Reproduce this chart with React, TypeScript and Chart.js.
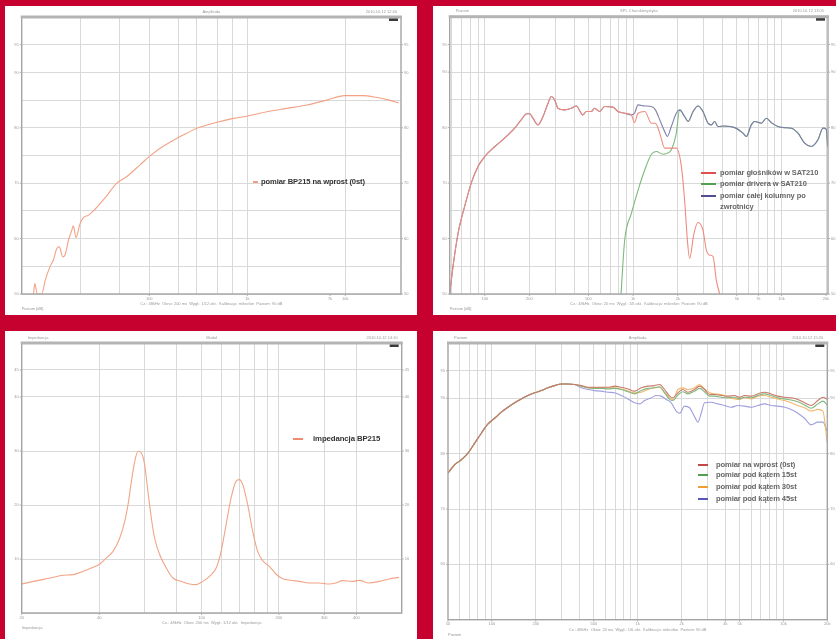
import React, { useEffect, useRef } from "react";
import { Chart, registerables } from "chart.js";
Chart.register(...registerables);

// ---------- Panel 1: BP215 on-axis ----------
const p1Freq = [6.6, 6.8, 7.2, 8.0, 8.7, 9.7, 10.5, 11.4, 12.1, 13.1, 13.8, 15.0, 16.2, 16.8, 17.9, 19.7, 21.3, 23.9, 28.0, 31.5, 36.8, 46.6, 59, 80.5, 100, 129, 179, 241, 305, 469, 720, 986, 1580, 2530, 4040, 6460, 9840, 15100, 20600, 28000, 35000];
const p1Spl = [50, 51.9, 50, 50, 52.5, 54.9, 56.1, 58.2, 58.5, 56.7, 57.0, 59.7, 61.5, 62.3, 60.2, 62.7, 63.8, 64.2, 65.3, 66.3, 67.7, 70.0, 71.2, 73.3, 74.8, 76.3, 77.8, 79.0, 79.9, 80.9, 81.7, 82.1, 82.9, 83.5, 84.1, 85.0, 85.8, 85.8, 85.5, 85.0, 84.5];
const p1XGrid = [20, 50, 100, 200, 300, 500, 700, 1000, 10000];
const p1XLabels = [100, 1000, 7000, 10000];
const p1XLabelText = ["100", "1k", "7k", "10k"];

// ---------- Panel 2: SAT210 ----------
const p2SysFreq = [58, 61, 66, 73, 81, 90, 100, 117, 136, 159, 176, 192, 201, 211, 228, 247, 267, 281, 296, 311, 346, 383, 414, 458, 484, 522, 550, 594, 643, 731, 791, 877, 972, 1022, 1079, 1199, 1328, 1414, 1512, 1632, 1701, 1810, 1955, 2058, 2224, 2347, 2537, 2736, 2957, 3196, 3364, 3543, 3733, 4140, 4838, 5503, 5800, 6262, 6599, 7315, 7906, 8545, 9477, 10510, 11656, 12927, 14335, 15898, 17631, 19058, 20067, 20500];
const p2SysSpl = [50.0, 54.9, 60.9, 65.7, 70.0, 73.0, 74.8, 76.6, 78.1, 79.9, 81.4, 82.5, 82.5, 81.7, 80.5, 82.0, 84.4, 85.6, 85.0, 83.5, 83.2, 83.5, 83.9, 82.3, 82.9, 82.9, 83.5, 82.9, 83.8, 83.7, 82.9, 82.6, 82.3, 82.6, 84.1, 83.9, 83.8, 83.2, 81.4, 79.3, 78.4, 80.2, 82.6, 83.2, 82.0, 81.1, 82.9, 83.9, 82.9, 80.8, 80.5, 81.1, 80.2, 80.3, 80.0, 79.0, 78.4, 80.5, 81.1, 80.8, 81.7, 80.9, 80.2, 80.0, 79.9, 79.0, 77.2, 76.6, 77.8, 79.9, 79.7, 76.6];
const p2WooferHighFreq = [1022, 1079, 1199, 1328, 1414, 1512, 1632, 1810, 1955, 2115, 2224, 2322, 2403, 2570, 2736, 2957, 3117, 3276, 3454, 3638, 3832];
const p2WooferHighSpl = [80.9, 82.6, 82.9, 80.8, 80.8, 79.0, 76.3, 76.3, 76.3, 73.0, 66.9, 59.7, 56.4, 60.9, 62.9, 61.5, 57.9, 57.0, 56.8, 52.5, 50.0];
const p2DriverLowFreq = [829, 877, 972, 1079, 1199, 1328, 1433, 1592, 1701, 1810, 1955];
const p2DriverLowSpl = [50.0, 59.7, 64.5, 68.7, 72.4, 75.2, 75.7, 75.2, 75.4, 76.0, 79.0];
const p2WooferFreq = [...p2SysFreq.slice(0, 33), ...p2WooferHighFreq];
const p2WooferSpl = [...p2SysSpl.slice(0, 33), ...p2WooferHighSpl];
const p2DriverFreq = [...p2DriverLowFreq, ...p2SysFreq.slice(43)];
const p2DriverSpl = [...p2DriverLowSpl, ...p2SysSpl.slice(43)];

const stdLogGrid = [60, 70, 80, 90, 100, 200, 300, 400, 500, 600, 700, 800, 900, 1000, 2000, 3000, 4000, 5000, 6000, 7000, 8000, 9000, 10000, 20000];
const p2XLabels = [100, 200, 500, 1000, 2000, 5000, 7000, 10000, 20000];
const p2XLabelText = ["100", "200", "500", "1k", "2k", "5k", "7k", "10k", "20k"];

// ---------- Panel 3: impedance ----------
const p3Freq = [20, 22.2, 25.8, 29.0, 31.7, 34.7, 37.9, 40.3, 42.7, 45.3, 48.1, 50.3, 51.8, 53.4, 55.0, 56.7, 58.4, 60.1, 61.9, 63.8, 65.7, 68.8, 73.0, 77.4, 83.4, 89.8, 95.3, 101.2, 107.4, 114.0, 119.2, 124.6, 130.3, 136.2, 140.4, 144.6, 151.2, 158.1, 165.3, 172.9, 183.5, 194.7, 206.6, 222.6, 239.8, 262.2, 286.6, 313.4, 332.6, 353.1, 386.0, 409.6, 447.9, 489.7, 535.5, 585.5];
const p3Ohm = [5.37, 5.86, 6.48, 6.98, 7.10, 7.72, 8.46, 9.07, 10.19, 11.42, 13.89, 16.98, 20.06, 24.38, 28.09, 29.94, 29.63, 27.47, 22.53, 17.59, 13.89, 10.80, 8.33, 6.48, 5.86, 5.37, 5.25, 5.86, 6.79, 8.33, 11.42, 16.36, 21.30, 24.38, 24.69, 23.77, 20.06, 15.12, 11.42, 9.69, 8.64, 7.22, 6.36, 6.05, 5.86, 5.56, 5.56, 5.37, 5.56, 5.99, 5.86, 6.05, 5.56, 5.86, 6.30, 6.60];
const p3XGrid = [40, 60, 80, 100, 120, 140, 160, 180, 200, 300, 400];
const p3XLabels = [20, 40, 100, 200, 300, 400];
const p3XLabelText = ["20", "40", "100", "200", "300", "400"];

// ---------- Panel 4: off-axis ----------
const p4LowFreq = [50, 55.5, 61.7, 68.6, 76.2, 84.6, 94.1, 104.5, 116.1, 129, 143.3, 159.2, 176.9, 196.6, 218.4, 242.6, 269.6, 299.5, 332.7, 369.7];
const p4LowSpl = [76.5, 78.0, 78.9, 80.1, 81.9, 83.7, 85.4, 86.4, 87.5, 88.4, 89.2, 89.9, 90.5, 91.0, 91.4, 91.9, 92.3, 92.6, 92.6, 92.5];
const p4HighFreq = [410.7, 456.3, 507, 563, 626, 695, 772, 858, 953, 1059, 1176, 1307, 1414, 1530, 1656, 1745, 1888, 2043, 2211, 2456, 2658, 2877, 3113, 3369, 3743, 4159, 4621, 5000, 5410, 6010, 6677, 7418, 8242, 9158, 10170, 11300, 12560, 13950, 15500, 17220, 18640, 20000];
const p4Spl0 = [92.3, 92.0, 92.0, 92.0, 92.0, 92.2, 92.0, 91.7, 91.3, 91.9, 92.2, 92.3, 92.5, 91.6, 90.4, 90.1, 91.0, 91.6, 91.1, 91.6, 92.2, 91.6, 90.7, 90.7, 90.5, 90.4, 90.5, 90.2, 90.5, 90.4, 90.8, 91.1, 90.8, 90.4, 90.2, 90.1, 89.8, 89.2, 88.7, 89.6, 90.2, 89.8];
const p4Spl15 = [92.2, 91.9, 91.8, 91.8, 91.7, 91.8, 91.6, 91.2, 90.8, 91.4, 91.8, 91.9, 92.1, 91.0, 89.8, 89.6, 90.6, 91.2, 90.8, 91.3, 91.8, 91.2, 90.4, 90.4, 90.2, 90.1, 90.2, 89.9, 90.2, 90.1, 90.5, 90.8, 90.5, 90.1, 89.9, 89.7, 89.4, 88.8, 88.2, 89.0, 89.5, 88.8];
const p4Spl30 = [92.2, 91.9, 91.9, 91.9, 91.9, 91.9, 91.7, 91.3, 91.0, 91.1, 91.6, 91.9, 92.0, 91.1, 90.1, 89.8, 91.6, 91.9, 91.6, 91.9, 92.5, 91.7, 91.0, 90.8, 90.7, 90.2, 89.9, 89.8, 90.1, 89.9, 90.4, 90.5, 90.2, 89.9, 89.6, 89.2, 88.7, 88.3, 87.7, 88.0, 87.7, 81.9];
const p4HighFreq45 = [410.7, 456.3, 507, 563, 626, 695, 772, 858, 953, 1031, 1116, 1240, 1341, 1451, 1571, 1700, 1840, 1939, 2098, 2270, 2456, 2589, 2729, 2877, 3196, 3551, 3945, 4384, 4871, 5410, 6010, 6677, 7418, 8242, 9158, 10170, 11300, 12560, 13950, 15500, 17220, 18640, 20000];
const p4Spl45 = [91.9, 91.6, 91.4, 91.3, 91.1, 91.0, 90.5, 89.9, 89.2, 89.0, 89.6, 90.1, 90.5, 90.4, 89.8, 89.2, 87.7, 87.3, 88.6, 88.3, 86.7, 85.7, 87.3, 89.2, 89.3, 89.0, 88.7, 88.4, 88.7, 88.6, 88.4, 88.7, 89.0, 88.7, 88.6, 88.4, 88.0, 87.3, 86.4, 85.2, 85.7, 85.7, 84.0];
const p4XLabels = [50, 100, 200, 500, 1000, 2000, 4000, 5000, 10000, 20000];
const p4XLabelText = ["50", "100", "200", "500", "1k", "2k", "4k", "5k", "10k", "20k"];

// ---------- y axes ----------
const splGrid10 = [50, 55, 60, 65, 70, 75, 80, 85, 90, 95, 100];
const splLabels10 = [50, 60, 70, 80, 90, 95];
const ohmGrid = [0, 10, 20, 30, 40, 45, 50];
const ohmLabels = [10, 20, 30, 40, 45];
const splGrid4 = [50, 60, 70, 80, 90, 95, 100];
const splLabels4 = [60, 70, 80, 90, 95];

type Series = { label: string; freq: number[]; values: number[]; color: string; order: number };
type LegendItem = { text: string; color: string | null };
type PanelDef = {
  box: [number, number, number, number];
  pad: { left: number; top: number; right: number; bottom: number };
  xMin: number; xMax: number; xGrid: number[]; xLabels: number[]; xLabelText: string[];
  yMin: number; yMax: number; yGrid: number[]; yLabels: number[];
  series: Series[];
  legend: { left: number; textLeft: number; rows: number[]; markW: number; markH: number; size: number; color: string; weight: number; items: LegendItem[] };
  header: [string, string, string];
  footer: [string, string];
};

const panels: PanelDef[] = [
  {
    box: [5, 6, 412, 309],
    pad: { left: 16.7, top: 11, right: 16, bottom: 21 },
    xMin: 5, xMax: 37000, xGrid: p1XGrid, xLabels: p1XLabels, xLabelText: p1XLabelText,
    yMin: 50, yMax: 100, yGrid: splGrid10, yLabels: splLabels10,
    series: [{ label: "pomiar BP215 na wprost (0st)", freq: p1Freq, values: p1Spl, color: "#f3a285", order: 1 }],
    legend: { left: 248, textLeft: 256, rows: [176], markW: 5, markH: 2, size: 7.6, color: "#333", weight: 700, items: [{ text: "pomiar BP215 na wprost (0st)", color: "#f0a080" }] },
    header: ["", "Amplituda", "2010.10.12 12:40"],
    footer: ["Cz.: 48kHz  Okno: 200 ms  Wygł.: 1/12 okt.  Kalibracja: mikrofon  Poziom: 90 dB", "Poziom [dB]"],
  },
  {
    box: [433, 6, 403, 309],
    pad: { left: 16.7, top: 10.7, right: 8, bottom: 21 },
    xMin: 58, xMax: 20600, xGrid: stdLogGrid, xLabels: p2XLabels, xLabelText: p2XLabelText,
    yMin: 50, yMax: 100, yGrid: splGrid10, yLabels: splLabels10,
    series: [
      { label: "pomiar drivera w SAT210", freq: p2DriverFreq, values: p2DriverSpl, color: "#7cba7c", order: 3 },
      { label: "pomiar całej kolumny po zwrotnicy", freq: p2SysFreq, values: p2SysSpl, color: "#7e7eaa", order: 2 },
      { label: "pomiar głośników w SAT210", freq: p2WooferFreq, values: p2WooferSpl, color: "#ee8c7e", order: 1 },
    ],
    legend: { left: 268, textLeft: 287, rows: [167.3, 178.3, 189.7, 201], markW: 15, markH: 2, size: 7.5, color: "#666", weight: 700, items: [
      { text: "pomiar głośników w SAT210", color: "#e05050" },
      { text: "pomiar drivera w SAT210", color: "#50a050" },
      { text: "pomiar całej kolumny po", color: "#505090" },
      { text: "zwrotnicy", color: null },
    ] },
    header: ["Poziom", "SPL Charakterystyka", "2010.10.12 13:05"],
    footer: ["Cz.: 48kHz  Okno: 20 ms  Wygł.: 1/6 okt.  Kalibracja: mikrofon  Poziom: 90 dB", "Poziom [dB]"],
  },
  {
    box: [5, 331, 412, 308],
    pad: { left: 16.7, top: 12, right: 15.3, bottom: 26 },
    xMin: 20, xMax: 600, xGrid: p3XGrid, xLabels: p3XLabels, xLabelText: p3XLabelText,
    yMin: 0, yMax: 50, yGrid: ohmGrid, yLabels: ohmLabels,
    series: [{ label: "impedancja BP215", freq: p3Freq, values: p3Ohm, color: "#f2a486", order: 1 }],
    legend: { left: 288, textLeft: 308, rows: [107.7], markW: 10, markH: 2, size: 7.8, color: "#333", weight: 700, items: [{ text: "impedancja BP215", color: "#f08a70" }] },
    header: ["Impedancja", "Moduł", "2010.10.12 14:10"],
    footer: ["Cz.: 48kHz  Okno: 200 ms  Wygł.: 1/12 okt.  Impedancja", "Impedancja"],
  },
  {
    box: [433, 331, 403, 308],
    pad: { left: 15, top: 12, right: 8.7, bottom: 19.3 },
    xMin: 50, xMax: 20000, xGrid: stdLogGrid, xLabels: p4XLabels, xLabelText: p4XLabelText,
    yMin: 50, yMax: 100, yGrid: splGrid4, yLabels: splLabels4,
    series: [
      { label: "pomiar pod kątem 45st", freq: [...p4LowFreq, ...p4HighFreq45], values: [...p4LowSpl, ...p4Spl45], color: "#a0a0e0", order: 4 },
      { label: "pomiar pod kątem 30st", freq: [...p4LowFreq, ...p4HighFreq], values: [...p4LowSpl, ...p4Spl30], color: "#f2b86e", order: 3 },
      { label: "pomiar pod kątem 15st", freq: [...p4LowFreq, ...p4HighFreq], values: [...p4LowSpl, ...p4Spl15], color: "#80b880", order: 2 },
      { label: "pomiar na wprost (0st)", freq: [...p4LowFreq, ...p4HighFreq], values: [...p4LowSpl, ...p4Spl0], color: "#c87a6a", order: 1 },
    ],
    legend: { left: 265, textLeft: 283, rows: [133.7, 144.3, 156.3, 167.7], markW: 10, markH: 2, size: 7.6, color: "#666", weight: 700, items: [
      { text: "pomiar na wprost (0st)", color: "#c04848" },
      { text: "pomiar pod kątem 15st", color: "#50a050" },
      { text: "pomiar pod kątem 30st", color: "#f0a030" },
      { text: "pomiar pod kątem 45st", color: "#5858b8" },
    ] },
    header: ["Poziom", "Amplituda", "2010.10.12 15:20"],
    footer: ["Cz.: 48kHz  Okno: 20 ms  Wygł.: 1/6 okt.  Kalibracja: mikrofon  Poziom: 90 dB", "Poziom"],
  },
];

function makeDecor(def: PanelDef) {
  return {
    id: "decor",
    afterDraw(chart: any) {
      const { ctx, chartArea: a, scales } = chart;
      ctx.save();
      ctx.strokeStyle = "#a4a4a4";
      ctx.lineWidth = 1.4;
      ctx.strokeRect(a.left, a.top, a.right - a.left, a.bottom - a.top);
      ctx.fillStyle = "#b4b4b4";
      ctx.fillRect(a.left - 1, a.top - 1.5, a.right - a.left + 2, 3);
      ctx.fillStyle = "#3a3a3a";
      ctx.fillRect(a.right - 12, a.top + 1.5, 9, 2.5);
      ctx.font = '4px "Liberation Sans", Arial, sans-serif';
      ctx.fillStyle = "#9a9a9a";
      ctx.strokeStyle = "#b0b0b0";
      ctx.lineWidth = 1;
      ctx.textAlign = "center";
      ctx.textBaseline = "top";
      def.xLabels.forEach((v, i) => {
        const x = scales.x.getPixelForValue(v);
        ctx.fillText(def.xLabelText[i], x, a.bottom + 2.5);
        ctx.beginPath();
        ctx.moveTo(x, a.bottom);
        ctx.lineTo(x, a.bottom + 2);
        ctx.stroke();
      });
      ctx.textBaseline = "middle";
      def.yLabels.forEach((v) => {
        const y = scales.y.getPixelForValue(v);
        ctx.textAlign = "right";
        ctx.fillText(String(v), a.left - 3, y);
        ctx.textAlign = "left";
        ctx.fillText(String(v), a.right + 3, y);
        ctx.beginPath();
        ctx.moveTo(a.left - 2, y);
        ctx.lineTo(a.left, y);
        ctx.moveTo(a.right, y);
        ctx.lineTo(a.right + 2, y);
        ctx.stroke();
      });
      const hy = a.top - 5.5;
      ctx.textAlign = "left";
      ctx.fillText(def.header[0], a.left + 6, hy);
      ctx.textAlign = "center";
      ctx.fillText(def.header[1], (a.left + a.right) / 2, hy);
      ctx.textAlign = "right";
      ctx.fillText(def.header[2], a.right - 4, hy);
      ctx.textAlign = "center";
      ctx.fillText(def.footer[0], (a.left + a.right) / 2, a.bottom + 10);
      ctx.textAlign = "left";
      ctx.fillText(def.footer[1], a.left, a.bottom + 15);
      ctx.restore();
    },
  };
}

function Panel({ def }: { def: PanelDef }) {
  const ref = useRef<HTMLCanvasElement>(null);
  useEffect(() => {
    const canvas = ref.current;
    if (!canvas) return;
    const chart = new Chart(canvas, {
      type: "line",
      data: {
        datasets: def.series.map((s) => ({
          label: s.label,
          data: s.freq.map((f, i) => ({ x: f, y: s.values[i] })),
          borderColor: s.color,
          borderWidth: 1.1,
          pointRadius: 0,
          fill: false,
          cubicInterpolationMode: "monotone" as const,
          order: s.order,
        })),
      },
      options: {
        animation: false,
        responsive: false,
        devicePixelRatio: 1,
        layout: { padding: def.pad },
        plugins: { legend: { display: false }, tooltip: { enabled: false } },
        scales: {
          x: {
            type: "logarithmic",
            min: def.xMin,
            max: def.xMax,
            afterBuildTicks: (sc: any) => {
              sc.ticks = def.xGrid.map((v) => ({ value: v }));
            },
            ticks: { display: false },
            grid: { color: "#d9d9d9", lineWidth: 1, drawTicks: false },
            border: { display: false },
          },
          y: {
            type: "linear",
            min: def.yMin,
            max: def.yMax,
            afterBuildTicks: (sc: any) => {
              sc.ticks = def.yGrid.map((v) => ({ value: v }));
            },
            ticks: { display: false },
            grid: { color: "#d9d9d9", lineWidth: 1, drawTicks: false },
            border: { display: false },
          },
        },
      } as any,
      plugins: [makeDecor(def)],
    });
    return () => chart.destroy();
  }, [def]);

  const [l, t, w, h] = def.box;
  const lg = def.legend;
  return (
    <div style={{ position: "absolute", left: l, top: t, width: w, height: h, background: "#fff", overflow: "hidden" }}>
      <canvas ref={ref} width={w} height={h} style={{ position: "absolute", left: 0, top: 0, width: w, height: h }} />
      {lg.items.map((it, i) => (
        <div key={i} style={{ position: "absolute", left: 0, top: lg.rows[i] - 6, height: 12, width: w }}>
          {it.color && (
            <div style={{ position: "absolute", left: lg.left, top: 6 - lg.markH / 2, width: lg.markW, height: lg.markH, background: it.color }} />
          )}
          <div
            style={{
              position: "absolute",
              left: lg.textLeft,
              top: 0,
              height: 12,
              lineHeight: "12px",
              fontFamily: '"Liberation Sans", Arial, sans-serif',
              fontSize: lg.size,
              fontWeight: lg.weight,
              color: lg.color,
              whiteSpace: "nowrap",
              letterSpacing: -0.1,
            }}
          >
            {it.text}
          </div>
        </div>
      ))}
    </div>
  );
}

export default function App() {
  return (
    <div style={{ position: "absolute", left: 0, top: 0, width: 836, height: 639, background: "#c6002f", overflow: "hidden" }}>
      {panels.map((p, i) => (
        <Panel key={i} def={p} />
      ))}
    </div>
  );
}
